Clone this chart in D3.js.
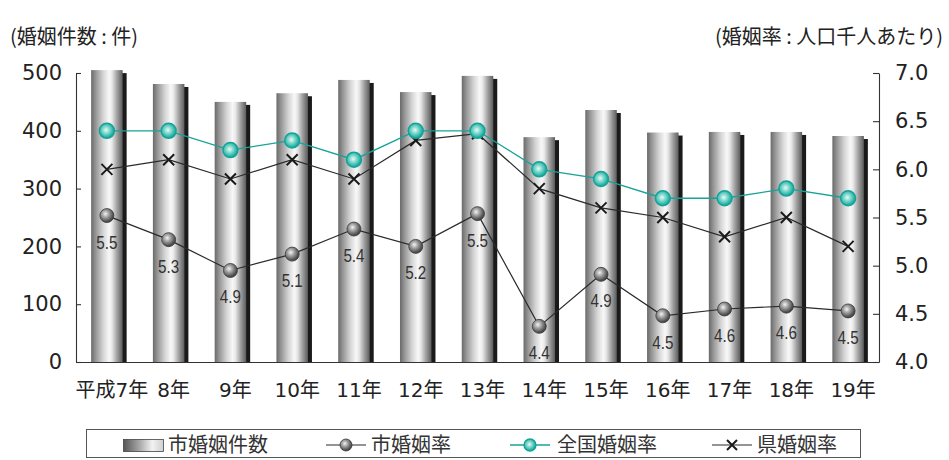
<!DOCTYPE html>
<html>
<head>
<meta charset="utf-8">
<script src="https://cdn.jsdelivr.net/npm/d3@7"></script>
<style>
  html, body { margin: 0; padding: 0; background: #fff; }
  svg { display: block; }
</style>
</head>
<body>
<svg id="chart" width="949" height="460"></svg>
<script>
// ---- data ----
const categories = ["平成7年", "8年", "9年", "10年", "11年", "12年", "13年", "14年", "15年", "16年", "17年", "18年", "19年"];
const cityCount = [505, 481, 450, 465, 488, 467, 495, 389, 436, 397, 398, 398, 391];
const cityRate = [5.52, 5.27, 4.95, 5.12, 5.38, 5.2, 5.54, 4.37, 4.91, 4.48, 4.55, 4.58, 4.53];
const cityRateLabels = ["5.5", "5.3", "4.9", "5.1", "5.4", "5.2", "5.5", "4.4", "4.9", "4.5", "4.6", "4.6", "4.5"];
const nationalRate = [6.4, 6.4, 6.2, 6.3, 6.1, 6.4, 6.4, 6.0, 5.9, 5.7, 5.7, 5.8, 5.7];
const prefRate = [6.0, 6.1, 5.9, 6.1, 5.9, 6.3, 6.37, 5.8, 5.6, 5.5, 5.3, 5.5, 5.2];
const leftTicks = [0, 100, 200, 300, 400, 500];
const rightTicks = [4.0, 4.5, 5.0, 5.5, 6.0, 6.5, 7.0];
const leftTitle = "(婚姻件数 : 件)";
const rightTitle = "(婚姻率 : 人口千人あたり)";
const legendLabels = ["市婚姻件数", "市婚姻率", "全国婚姻率", "県婚姻率"];

// ---- layout ----
const svg = d3.select("#chart");
const X0 = 76, X1 = 879, Y0 = 362, Y1 = 73;
const numFont = "'DejaVu Sans', 'Noto Sans CJK JP', sans-serif";
const cjkFont = "'Noto Sans CJK JP', 'DejaVu Sans', sans-serif";
const narrowFont = "'Liberation Sans', Arial, sans-serif";

const x = d3.scaleBand().domain(categories).range([X0, X1]).paddingInner(0.49).paddingOuter(0.245);
const yL = d3.scaleLinear().domain([0, 500]).range([Y0, Y1]);
const yR = d3.scaleLinear().domain([4, 7]).range([Y0, Y1]);
const cx = c => x(c) + x.bandwidth() / 2;

// ---- gradients ----
const defs = svg.append("defs");
const bg = defs.append("linearGradient").attr("id", "barGrad").attr("x1", "0").attr("x2", "1").attr("y1", "0").attr("y2", "0");
[["0%", "#6a6a6a"], ["15%", "#979797"], ["38%", "#d4d4d4"], ["57%", "#f8f8f8"], ["66%", "#e8e8e8"], ["82%", "#a2a2a2"], ["100%", "#5c5c5c"]]
  .forEach(([o, c]) => bg.append("stop").attr("offset", o).attr("stop-color", c));
const lg = defs.append("linearGradient").attr("id", "legGrad").attr("x1", "0").attr("x2", "1");
[["0%", "#555"], ["40%", "#a8a8a8"], ["72%", "#f2f2f2"], ["100%", "#cfcfcf"]]
  .forEach(([o, c]) => lg.append("stop").attr("offset", o).attr("stop-color", c));
const gg = defs.append("radialGradient").attr("id", "grayBall").attr("cx", "40%").attr("cy", "38%").attr("r", "65%");
[["0%", "#f4f4f4"], ["35%", "#a8a8a8"], ["80%", "#555"], ["100%", "#3a3a3a"]]
  .forEach(([o, c]) => gg.append("stop").attr("offset", o).attr("stop-color", c));
const tg = defs.append("radialGradient").attr("id", "tealBall").attr("cx", "45%").attr("cy", "45%").attr("r", "60%");
[["0%", "#e8fbf8"], ["40%", "#7fd6cc"], ["80%", "#1fb1a4"], ["100%", "#129a8e"]]
  .forEach(([o, c]) => tg.append("stop").attr("offset", o).attr("stop-color", c));

// ---- titles ----
svg.append("text").attr("x", 10).attr("y", 44).attr("font-family", cjkFont).attr("font-size", 20).attr("fill", "#222").text(leftTitle);
svg.append("text").attr("x", 943).attr("y", 44).attr("text-anchor", "end").attr("font-family", cjkFont).attr("font-size", 20).attr("fill", "#222").text(rightTitle);

// ---- bars ----
const bars = svg.append("g");
bars.selectAll("rect.shadow").data(categories).join("rect").attr("class", "shadow")
  .attr("x", c => x(c) + 4).attr("y", (c, i) => yL(cityCount[i]) + 3)
  .attr("width", x.bandwidth()).attr("height", (c, i) => Y0 - yL(cityCount[i]) - 3)
  .attr("fill", "#1a1a1a");
bars.selectAll("rect.bar").data(categories).join("rect").attr("class", "bar")
  .attr("x", c => x(c)).attr("y", (c, i) => yL(cityCount[i]))
  .attr("width", x.bandwidth()).attr("height", (c, i) => Y0 - yL(cityCount[i]))
  .attr("fill", "url(#barGrad)");

// ---- axes ----
const axL = svg.append("g").attr("transform", `translate(${X0},0)`)
  .call(d3.axisLeft(yL).tickValues(leftTicks).tickSizeInner(-5).tickSizeOuter(0).tickPadding(14));
const axR = svg.append("g").attr("transform", `translate(${X1},0)`)
  .call(d3.axisRight(yR).tickValues(rightTicks).tickFormat(d3.format(".1f")).tickSizeInner(-6).tickSizeOuter(0).tickPadding(16));
[axL, axR].forEach(a => {
  a.selectAll("path, line").attr("stroke", "#333").attr("stroke-width", 1.1);
  a.selectAll("text").attr("font-family", numFont).attr("font-size", 21).attr("fill", "#222");
});
const axB = svg.append("g").attr("transform", `translate(0,${Y0})`)
  .call(d3.axisBottom(x).tickSize(0).tickPadding(0));
axB.select("path").attr("stroke", "#333").attr("stroke-width", 1.2);
axB.selectAll("text").attr("font-family", numFont).attr("font-size", 20).attr("fill", "#222")
  .attr("dx", 5).attr("y", 35).attr("dy", 0);

// ---- lines ----
const line = arr => d3.line().x((d, i) => cx(categories[i])).y(d => yR(d))(arr);

svg.append("path").attr("d", line(prefRate)).attr("fill", "none").attr("stroke", "#2a2a2a").attr("stroke-width", 1.2);
svg.append("g").selectAll("path").data(prefRate).join("path")
  .attr("d", (d, i) => { const px = cx(categories[i]), py = yR(d), s = 5.5; return `M${px - s},${py - s}L${px + s},${py + s}M${px - s},${py + s}L${px + s},${py - s}`; })
  .attr("stroke", "#1a1a1a").attr("stroke-width", 2).attr("fill", "none");

svg.append("path").attr("d", line(cityRate)).attr("fill", "none").attr("stroke", "#2a2a2a").attr("stroke-width", 1.2);
svg.append("g").selectAll("circle").data(cityRate).join("circle")
  .attr("cx", (d, i) => cx(categories[i])).attr("cy", d => yR(d)).attr("r", 7)
  .attr("fill", "url(#grayBall)").attr("stroke", "#3a3a3a").attr("stroke-width", 0.8);
svg.append("g").selectAll("text").data(cityRate).join("text")
  .attr("transform", (d, i) => `translate(${cx(categories[i])},${yR(d) + 33}) scale(0.8,1)`)
  .attr("text-anchor", "middle").attr("font-family", narrowFont).attr("font-size", 19).attr("fill", "#333")
  .text((d, i) => cityRateLabels[i]);

svg.append("path").attr("d", line(nationalRate)).attr("fill", "none").attr("stroke", "#17a398").attr("stroke-width", 1.3);
svg.append("g").selectAll("circle").data(nationalRate).join("circle")
  .attr("cx", (d, i) => cx(categories[i])).attr("cy", d => yR(d)).attr("r", 7.5)
  .attr("fill", "url(#tealBall)").attr("stroke", "#16a296").attr("stroke-width", 1.5);

// ---- legend ----
const leg = svg.append("g");
leg.append("rect").attr("x", 86.5).attr("y", 429.5).attr("width", 774).attr("height", 28)
  .attr("fill", "#fff").attr("stroke", "#555").attr("stroke-width", 1);
const LY = 445;
leg.append("rect").attr("x", 123.5).attr("y", 439.5).attr("width", 40).attr("height", 12)
  .attr("fill", "url(#legGrad)").attr("stroke", "#444").attr("stroke-width", 0.8);
const legText = (tx, s) => leg.append("text").attr("x", tx).attr("y", LY + 7).attr("font-family", cjkFont)
  .attr("font-size", 20).attr("fill", "#333").text(s);
legText(168, legendLabels[0]);
// 市婚姻率
leg.append("line").attr("x1", 326).attr("x2", 366).attr("y1", LY).attr("y2", LY).attr("stroke", "#2a2a2a").attr("stroke-width", 1.2);
leg.append("circle").attr("cx", 346).attr("cy", LY).attr("r", 6).attr("fill", "url(#grayBall)").attr("stroke", "#3a3a3a").attr("stroke-width", 0.8);
legText(371, legendLabels[1]);
// 全国婚姻率
leg.append("line").attr("x1", 510).attr("x2", 550).attr("y1", LY).attr("y2", LY).attr("stroke", "#17a398").attr("stroke-width", 1.3);
leg.append("circle").attr("cx", 530).attr("cy", LY).attr("r", 6).attr("fill", "url(#tealBall)").attr("stroke", "#16a296").attr("stroke-width", 1.3);
legText(557, legendLabels[2]);
// 県婚姻率
leg.append("line").attr("x1", 712).attr("x2", 752).attr("y1", LY).attr("y2", LY).attr("stroke", "#2a2a2a").attr("stroke-width", 1.2);
leg.append("path").attr("d", `M${732 - 5},${LY - 5}L${732 + 5},${LY + 5}M${732 - 5},${LY + 5}L${732 + 5},${LY - 5}`)
  .attr("stroke", "#1a1a1a").attr("stroke-width", 2);
legText(757, legendLabels[3]);
</script>
</body>
</html>
